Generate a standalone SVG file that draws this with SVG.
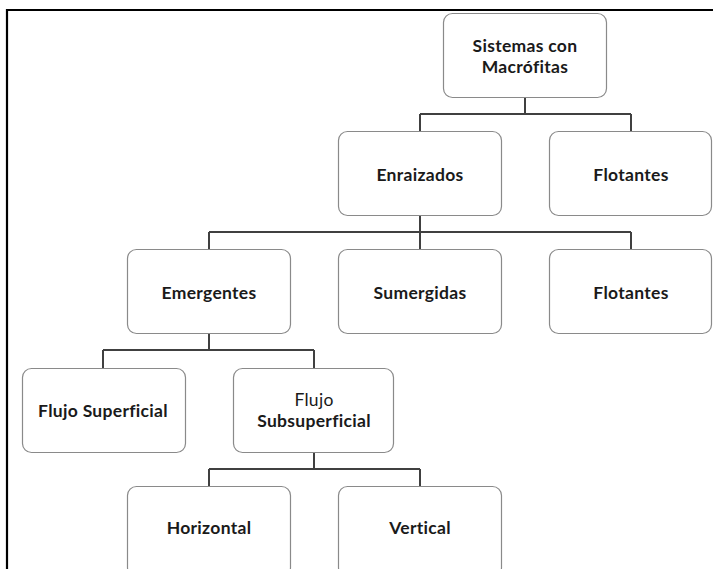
<svg xmlns="http://www.w3.org/2000/svg" width="713" height="569" viewBox="0 0 713 569">
  <style>
    .box { fill: #ffffff; stroke: #8a8a8a; stroke-width: 1.2; }
    .lbl { font-family: Lato, "Open Sans", "Liberation Sans", sans-serif; font-size: 17.5px; font-weight: 700; letter-spacing: 0.3px; font-variant-ligatures: none; fill: #1a1a1a; text-anchor: middle; dominant-baseline: central; }
    .thin { font-weight: 400; }
    .link { fill: none; stroke: #404040; stroke-width: 2; }
    .frame { fill: none; stroke: #000000; stroke-width: 2.2; }
  </style>
  <rect x="0" y="0" width="713" height="569" fill="#ffffff"/>

  <!-- outer frame (top and left edges) -->
  <path class="frame" d="M7 569 V10 H713"/>

  <!-- connectors -->
  <g id="connectors">
    <path class="link" d="M525 97 V114 M420 114 H631 M420 114 V131 M631 114 V131"/>
    <path class="link" d="M420 215 V249 M209 232 H631 M209 232 V249 M631 232 V249"/>
    <path class="link" d="M209 333 V350 M103 350 H314 M103 350 V368 M314 350 V368"/>
    <path class="link" d="M314 452 V469 M209 469 H420 M209 469 V486 M420 469 V486"/>
  </g>

  <!-- nodes -->
  <g id="sistemas">
    <rect class="box" x="443.5" y="13.5" width="163" height="84" rx="9"/>
    <text class="lbl" x="525" y="45">Sistemas con</text>
    <text class="lbl" x="525" y="66">Macrófitas</text>
  </g>
  <g id="enraizados">
    <rect class="box" x="338.5" y="131.5" width="163" height="84" rx="9"/>
    <text class="lbl" x="420" y="174">Enraizados</text>
  </g>
  <g id="flotantes-1">
    <rect class="box" x="549.5" y="131.5" width="162" height="84" rx="9"/>
    <text class="lbl" x="631" y="174">Flotantes</text>
  </g>
  <g id="emergentes">
    <rect class="box" x="127.5" y="249.5" width="163" height="84" rx="9"/>
    <text class="lbl" x="209" y="292">Emergentes</text>
  </g>
  <g id="sumergidas">
    <rect class="box" x="338.5" y="249.5" width="163" height="84" rx="9"/>
    <text class="lbl" x="420" y="292">Sumergidas</text>
  </g>
  <g id="flotantes-2">
    <rect class="box" x="549.5" y="249.5" width="162" height="84" rx="9"/>
    <text class="lbl" x="631" y="292">Flotantes</text>
  </g>
  <g id="flujo-superficial">
    <rect class="box" x="22.5" y="368.5" width="163" height="84" rx="9"/>
    <text class="lbl" x="103" y="410">Flujo Superficial</text>
  </g>
  <g id="flujo-subsuperficial">
    <rect class="box" x="233.5" y="368.5" width="160" height="84" rx="9"/>
    <text class="lbl thin" x="314" y="399">Flujo</text>
    <text class="lbl" x="314" y="420">Subsuperficial</text>
  </g>
  <g id="horizontal">
    <rect class="box" x="127.5" y="486.5" width="163" height="90" rx="9"/>
    <text class="lbl" x="209" y="527">Horizontal</text>
  </g>
  <g id="vertical">
    <rect class="box" x="338.5" y="486.5" width="163" height="90" rx="9"/>
    <text class="lbl" x="420" y="527">Vertical</text>
  </g>
</svg>
